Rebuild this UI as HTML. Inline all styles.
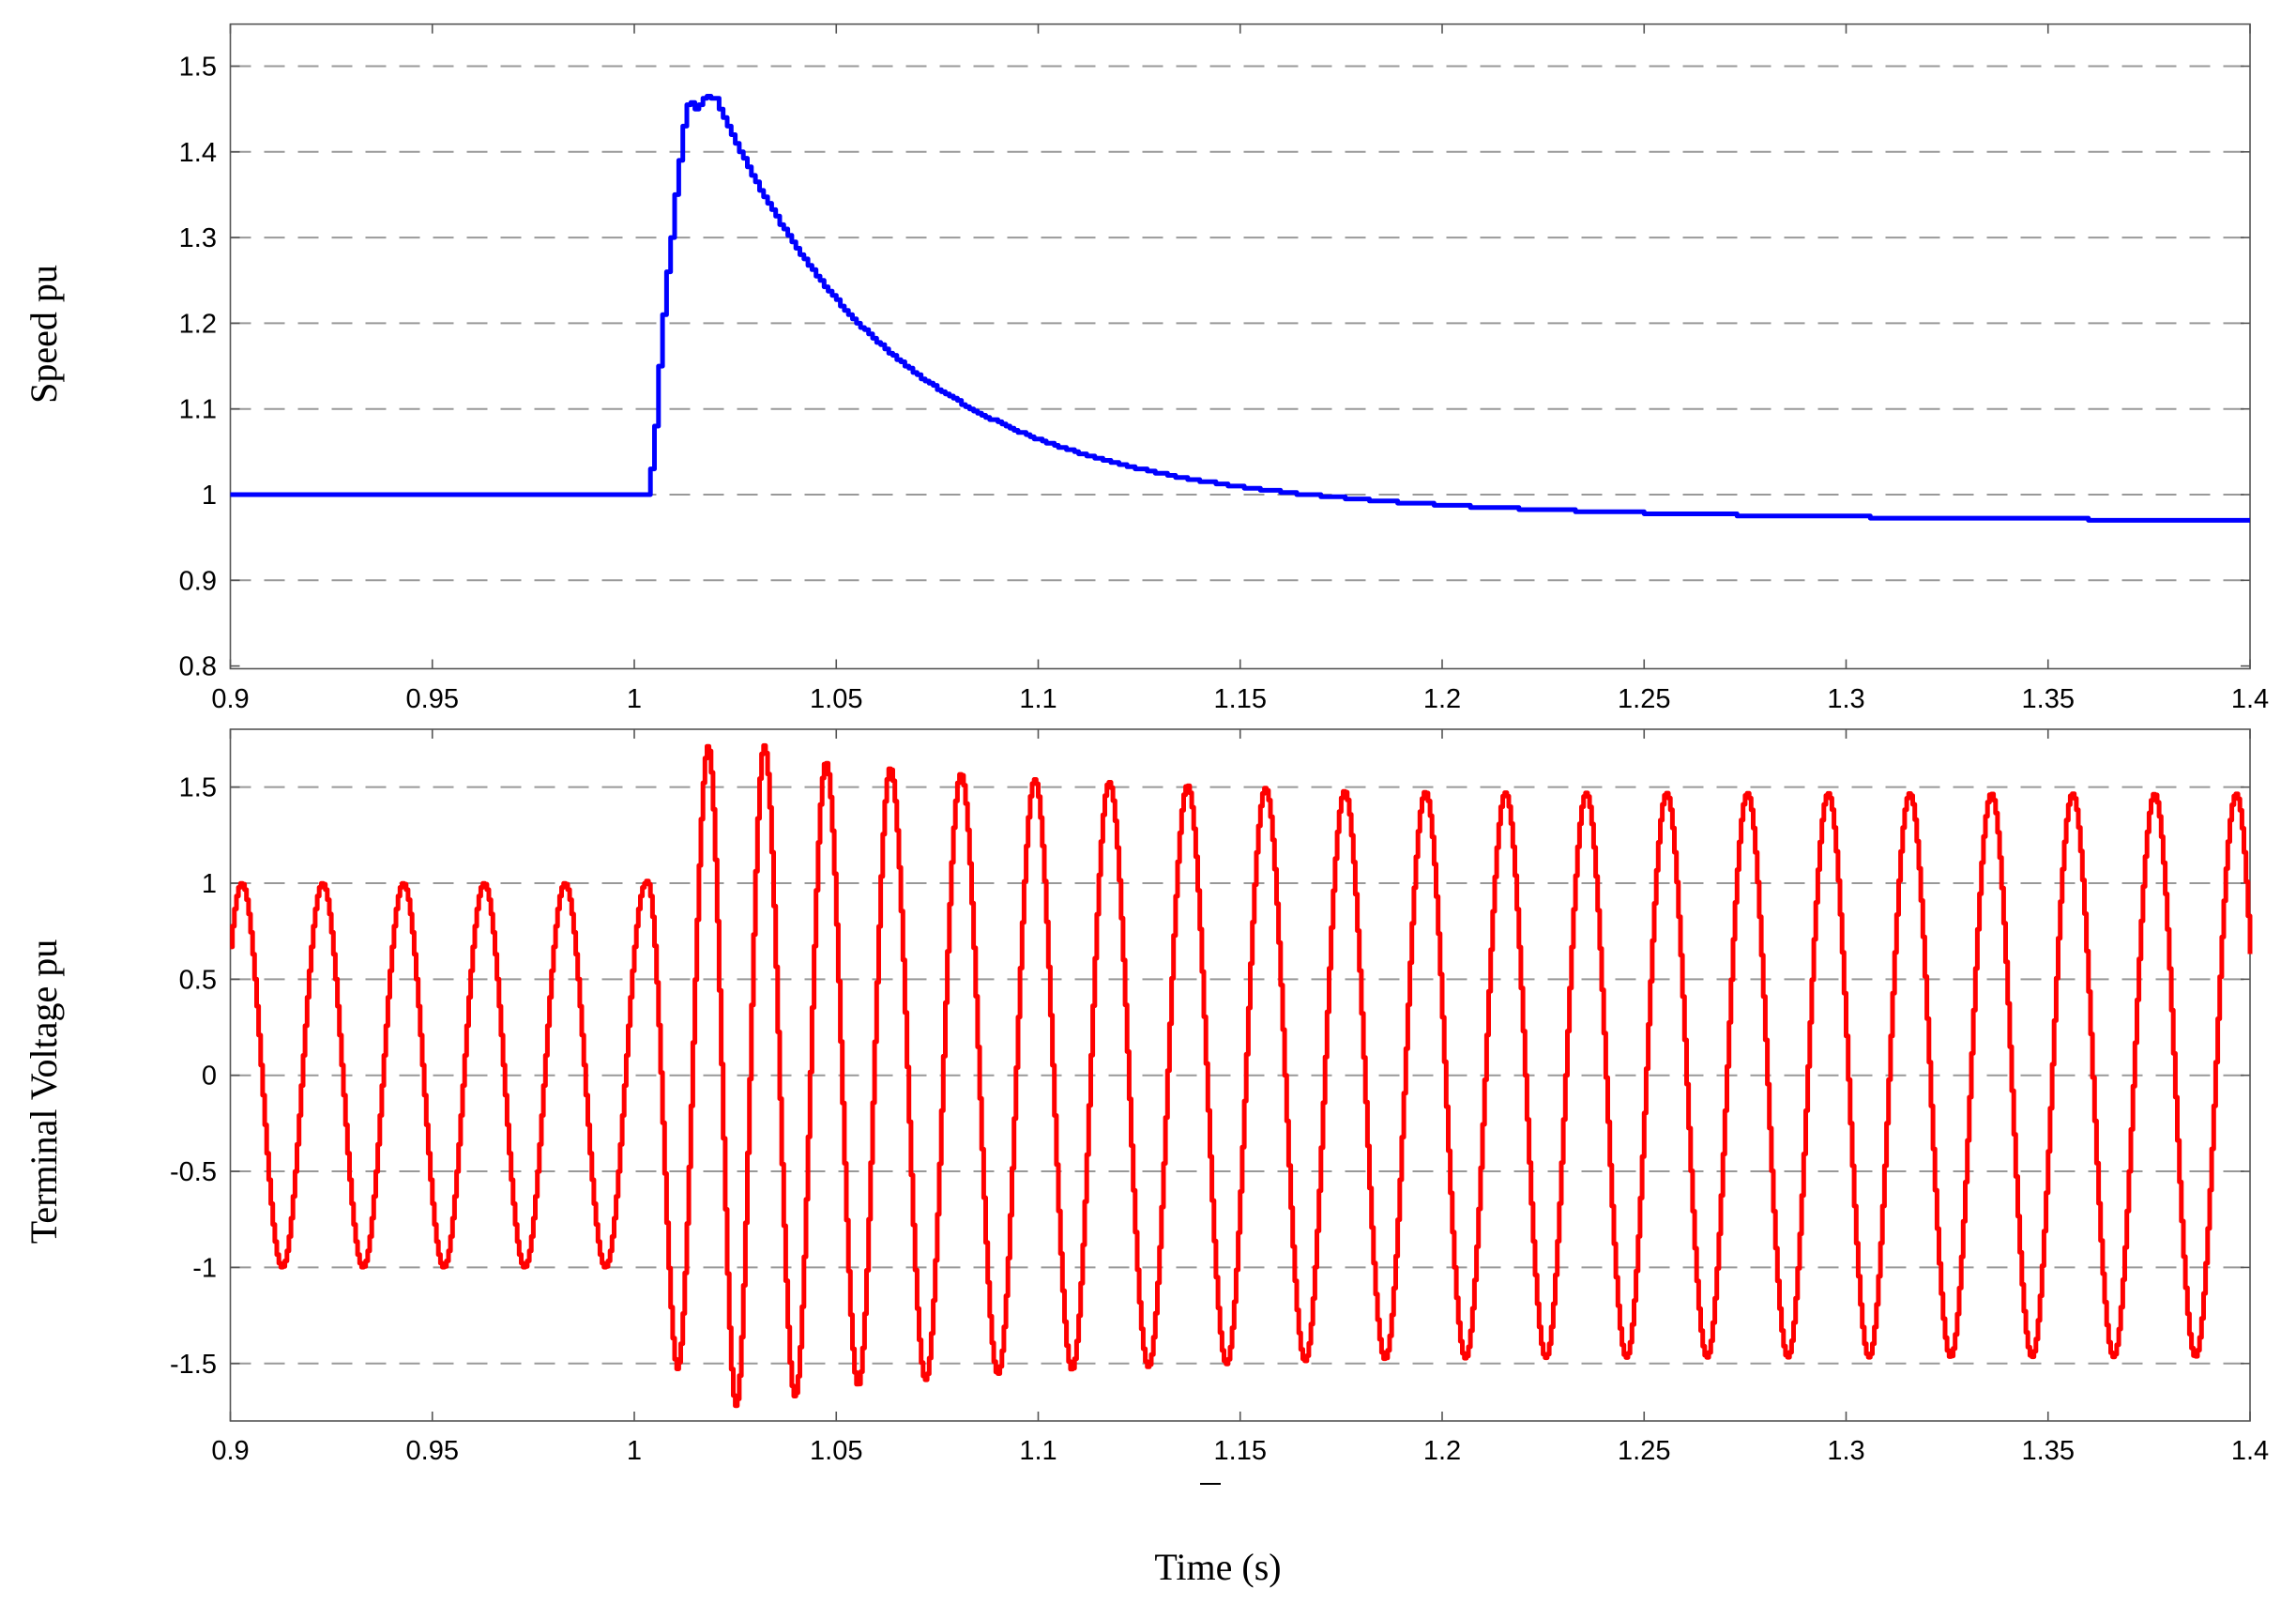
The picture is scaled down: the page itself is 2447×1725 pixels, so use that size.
<!DOCTYPE html>
<html><head><meta charset="utf-8"><style>
html,body{margin:0;padding:0;background:#fff;}
svg{display:block;}
.t{font-family:"Liberation Sans",Arial,sans-serif;font-size:29px;fill:#000;}
.s{font-family:"Liberation Serif","Times New Roman",serif;font-size:40px;fill:#000;}
</style></head><body>
<svg id="c" width="2447" height="1725" xmlns="http://www.w3.org/2000/svg">
<rect width="2447" height="1725" fill="#fff"/>
<g id="grid" stroke="#999" stroke-width="2" stroke-dasharray="22,14"></g>
<g id="axes" fill="none" stroke="#555" stroke-width="1.6"></g>
<g id="labels"></g>
<path id="sp" fill="none" stroke="#0000ff" stroke-width="5" stroke-linejoin="round"/>
<path id="tv" fill="none" stroke="#ff0000" stroke-width="5" stroke-linejoin="round"/>
<text class="s" transform="translate(60,356) rotate(-90)" text-anchor="middle">Speed pu</text>
<text class="s" transform="translate(60,1163) rotate(-90)" text-anchor="middle">Terminal Voltage pu</text>
<text class="s" x="1298" y="1683" text-anchor="middle">Time (s)</text>
<line x1="1279" y1="1581" x2="1301" y2="1581" stroke="#000" stroke-width="2"/>
</svg>
<script>
var NS="http://www.w3.org/2000/svg";
var L=245.5,R=2398;
function X(t){return L+(t-0.9)*4305;}
function Yt(v){return 527-(v-1)*913;}
function Yb(v){return 1145.7-v*204.7;}
var grid=document.getElementById('grid'),axes=document.getElementById('axes'),lab=document.getElementById('labels');
function el(p,tag,a,txt){var e=document.createElementNS(NS,tag);for(var k in a)e.setAttribute(k,a[k]);if(txt!==undefined)e.textContent=txt;p.appendChild(e);return e;}
var panels=[{top:25.7,bot:712.5,Y:Yt,yt:[0.8,0.9,1,1.1,1.2,1.3,1.4,1.5],xl:754},
            {top:777,bot:1514,Y:Yb,yt:[-1.5,-1,-0.5,0,0.5,1,1.5],xl:1555}];
var xt=[0.9,0.95,1,1.05,1.1,1.15,1.2,1.25,1.3,1.35,1.4];
panels.forEach(function(p){
  p.yt.forEach(function(v){var y=p.Y(v);
    if(Math.abs(y-p.bot)>3&&Math.abs(y-p.top)>3) el(grid,'line',{x1:L,x2:R,y1:y,y2:y});
    el(axes,'line',{x1:L,x2:L+10,y1:y,y2:y});el(axes,'line',{x1:R,x2:R-10,y1:y,y2:y});
    el(lab,'text',{'class':'t',x:231,y:y+10,'text-anchor':'end'},String(v));
  });
  xt.forEach(function(t){var x=X(t);
    el(axes,'line',{x1:x,x2:x,y1:p.bot,y2:p.bot-10});el(axes,'line',{x1:x,x2:x,y1:p.top,y2:p.top+10});
    el(lab,'text',{'class':'t',x:x,y:p.xl,'text-anchor':'middle'},String(t));
  });
  el(axes,'rect',{x:L,y:p.top,width:R-L,height:p.bot-p.top});
});
function interp(kp,t){
  if(t<=kp[0][0])return kp[0][1];
  for(var i=0;i<kp.length-1;i++){if(t>=kp[i][0]&&t<=kp[i+1][0]){var f=(t-kp[i][0])/(kp[i+1][0]-kp[i][0]);return kp[i][1]+f*(kp[i+1][1]-kp[i][1]);}}
  return kp[kp.length-1][1];
}
var kp=[[1.0,1.0],[1.003,1.0],[1.004,1.03],[1.005,1.08],[1.006,1.15],[1.007,1.21],[1.008,1.26],[1.009,1.30],[1.010,1.35],[1.011,1.39],[1.012,1.43],[1.013,1.455],[1.014,1.458],[1.015,1.45],[1.016,1.455],[1.017,1.463],[1.018,1.465],[1.020,1.462]];
function speed(t){
  if(t<=1.020)return interp(kp,t);
  var d=t-1.020;
  return 0.968+0.40*Math.exp(-d/0.04)+0.094*Math.exp(-d/0.1);
}
var d="";
for(var k=0;k<=500;k++){
  var t=0.9+k*0.001;
  var sq=Math.round(speed(t)*400)/400;
  var x=X(t);
  if(k==0){d="M"+x.toFixed(1)+","+Yt(sq).toFixed(1);}
  else{d+="H"+x.toFixed(1)+"V"+Yt(sq).toFixed(1);}
}
document.getElementById('sp').setAttribute('d',d);
var peaks=[];
for(var n=-1;n<=5;n++)peaks.push(0.90267+0.02*n);
[1.0181,1.032,1.0473,1.0632,1.0807,1.0990,1.1174,1.1368,1.1561,1.1757,1.1957,1.2155,1.2355,1.2554,1.2754,1.2954,1.3156,1.3358,1.3559,1.3762,1.3964,1.4165].forEach(function(p){peaks.push(p);});
var phk=peaks.map(function(p,i){return [p,Math.PI/2+2*Math.PI*(i-1)];});
var ak=[[1.0027,1.0],[1.0105,1.53],[1.0181,1.716],[1.025,1.72],[1.032,1.716],[1.04,1.67],[1.0473,1.63],[1.0632,1.6],[1.0807,1.57],[1.099,1.54],[1.1174,1.526],[1.1368,1.51],[1.1561,1.495],[1.1757,1.48],[1.22,1.47],[1.4,1.465]];
var d2="",dt=0.0005;
for(var i=0;i<=1000;i++){
  var t=0.9+i*dt;
  var v=interp(ak,t)*Math.sin(interp(phk,t));
  var x=X(t),y=Yb(v);
  if(i==0)d2="M"+x.toFixed(1)+","+y.toFixed(1);
  else d2+="H"+x.toFixed(1)+"V"+y.toFixed(1);
}
document.getElementById('tv').setAttribute('d',d2);
</script>
</body></html>
